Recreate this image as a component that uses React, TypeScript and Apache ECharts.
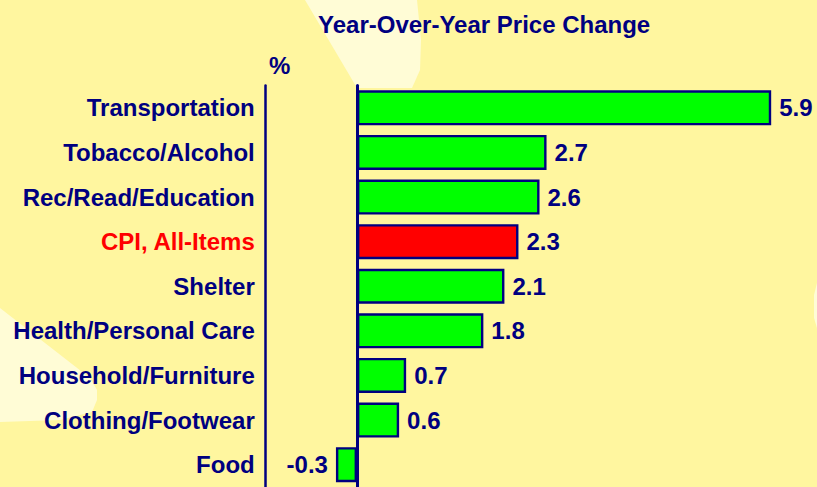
import React, { useEffect, useRef } from "react";
import * as echarts from "echarts";

const categories = [
  "Transportation",
  "Tobacco/Alcohol",
  "Rec/Read/Education",
  "CPI, All-Items",
  "Shelter",
  "Health/Personal Care",
  "Household/Furniture",
  "Clothing/Footwear",
  "Food",
];
const values = [5.9, 2.7, 2.6, 2.3, 2.1, 1.8, 0.7, 0.6, -0.3];
const highlight = "CPI, All-Items";
const titleText = "Year-Over-Year Price Change";
const unitText = "%";

const NAVY = "#000080";
const FONT = "'Liberation Sans', Arial, Helvetica, sans-serif";

export default function App() {
  const ref = useRef<HTMLDivElement>(null);
  useEffect(() => {
    if (!ref.current) return;
    const chart = echarts.init(ref.current, undefined, { renderer: "svg" });
    const pxPerUnit = 70.2;
    const xMin = -1.3;
    const xMax = 6.5;
    const gridLeft = 357 - -xMin * pxPerUnit;
    const gridWidth = (xMax - xMin) * pxPerUnit;
    chart.setOption({
      animation: false,
      backgroundColor: "#FFF69F",
      graphic: [
        {
          type: "polygon",
          z: -10,
          silent: true,
          shape: { points: [[305, 0], [417, 0], [421, 40], [420, 70], [412, 88], [357, 88]] },
          style: { fill: "#FFFCD6" },
        },
        {
          type: "polygon",
          z: -10,
          silent: true,
          shape: { points: [[0, 308], [90, 378], [97, 390], [97, 400], [92, 412], [60, 420], [0, 422]] },
          style: { fill: "#FFFCD6" },
        },
        {
          type: "polygon",
          z: -10,
          silent: true,
          shape: { points: [[817, 283], [814, 295], [814, 318], [817, 328]] },
          style: { fill: "#FFFCD6" },
        },
      ],
      title: [
        {
          text: titleText,
          left: 313,
          top: 7,
          textStyle: { color: NAVY, fontSize: 24, fontWeight: "bold", fontFamily: FONT },
        },
        {
          text: unitText,
          left: 264,
          top: 48,
          textStyle: { color: NAVY, fontSize: 24, fontWeight: "bold", fontFamily: FONT },
        },
      ],
      grid: { left: gridLeft, width: gridWidth, top: 85.5, height: 404 },
      xAxis: {
        type: "value",
        min: xMin,
        max: xMax,
        show: false,
        splitLine: { show: false },
      },
      yAxis: [
        {
          type: "category",
          data: categories,
          inverse: true,
          position: "left",
          axisLine: { show: true, onZero: true, lineStyle: { color: NAVY, width: 3 } },
          axisTick: { show: false },
          axisLabel: { show: false },
        },
        {
          type: "category",
          data: categories,
          inverse: true,
          position: "left",
          axisLine: { show: true, onZero: false, lineStyle: { color: NAVY, width: 2.5 } },
          axisTick: { show: false },
          axisLabel: {
            margin: 11,
            fontSize: 24,
            fontWeight: "bold",
            fontFamily: FONT,
            color: (v: string) => (v === highlight ? "#FF0000" : NAVY),
          },
        },
      ],
      series: [
        {
          type: "bar",
          yAxisIndex: 0,
          barWidth: 35,
          data: values.map((v, i) => ({
            value: v,
            itemStyle: {
              color: categories[i] === highlight ? "#FF0000" : "#00FF00",
              borderColor: NAVY,
              borderWidth: 2.4,
            },
            label: { position: v < 0 ? "left" : "right" },
          })),
          label: {
            show: true,
            distance: 8,
            color: NAVY,
            fontSize: 24,
            fontWeight: "bold",
            fontFamily: FONT,
            formatter: (p: any) => Number(p.value).toFixed(1),
          },
        },
      ],
    });
    return () => chart.dispose();
  }, []);
  return <div ref={ref} style={{ width: 817, height: 487, position: "absolute", left: 0, top: 0 }} />;
}
